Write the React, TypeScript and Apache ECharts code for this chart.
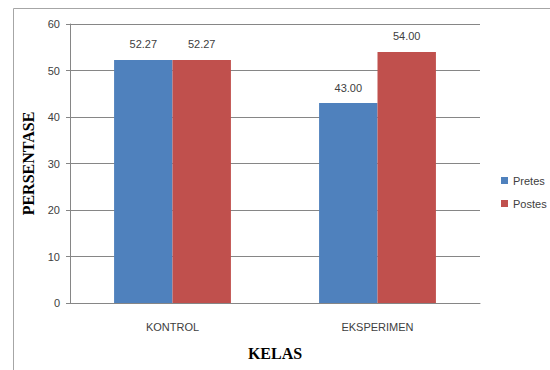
import React, { useEffect, useRef } from "react";
import * as echarts from "echarts";

const categories = ["KONTROL", "EKSPERIMEN"];
const pretes = [52.27, 43.0];
const postes = [52.27, 54.0];
const seriesNames = ["Pretes", "Postes"];

export default function App() {
  const ref = useRef<HTMLDivElement>(null);
  useEffect(() => {
    if (!ref.current) return;
    const chart = echarts.init(ref.current, null, { renderer: "svg" });
    const labelCfg = {
      show: true,
      position: "top",
      distance: 10,
      formatter: (p: any) => Number(p.value).toFixed(2),
      fontFamily: "Liberation Sans, Arial, sans-serif",
      fontSize: 11,
      color: "#404040",
    };
    chart.setOption({
      animation: false,
      backgroundColor: "#ffffff",
      textStyle: { fontFamily: "Liberation Sans, Arial, sans-serif" },
      graphic: [
        { type: "line", shape: { x1: 13.5, y1: 8.5, x2: 550, y2: 8.5 }, style: { stroke: "#a6a6a6", lineWidth: 1 } },
        { type: "line", shape: { x1: 13.5, y1: 8.5, x2: 13.5, y2: 370 }, style: { stroke: "#a6a6a6", lineWidth: 1 } },
      ],
      grid: { left: 70, right: 70, top: 24, bottom: 67, containLabel: false },
      legend: {
        orient: "vertical",
        left: 496,
        top: 170,
        itemWidth: 7,
        itemHeight: 7,
        itemGap: 12,
        icon: "rect",
        textStyle: { fontSize: 11, color: "#404040", fontFamily: "Liberation Sans, Arial, sans-serif" },
        data: seriesNames,
      },
      xAxis: {
        type: "category",
        data: categories,
        name: "KELAS",
        nameLocation: "middle",
        nameGap: 42,
        nameTextStyle: { fontFamily: "Liberation Serif, Times New Roman, serif", fontWeight: "bold", fontSize: 16, color: "#000" },
        axisLine: { lineStyle: { color: "#868686" } },
        axisTick: { show: false },
        axisLabel: { fontSize: 11, color: "#404040", margin: 18 },
      },
      yAxis: {
        type: "value",
        min: 0,
        max: 60,
        interval: 10,
        name: "PERSENTASE",
        nameLocation: "middle",
        nameGap: 28,
        nameTextStyle: { fontFamily: "Liberation Serif, Times New Roman, serif", fontWeight: "bold", fontSize: 16, color: "#000" },
        axisLine: { show: true, lineStyle: { color: "#868686" } },
        axisTick: { show: true, length: 4, lineStyle: { color: "#868686" } },
        axisLabel: { fontSize: 11, color: "#404040", margin: 10 },
        splitLine: { lineStyle: { color: "#868686", width: 1 } },
      },
      series: [
        {
          name: seriesNames[0],
          type: "bar",
          data: pretes,
          barCategoryGap: "43%",
          barGap: "0%",
          itemStyle: { color: "#4F81BD" },
          label: labelCfg,
        },
        {
          name: seriesNames[1],
          type: "bar",
          data: postes,
          barCategoryGap: "43%",
          barGap: "0%",
          itemStyle: { color: "#C0504D" },
          label: labelCfg,
        },
      ],
    });
    return () => chart.dispose();
  }, []);
  return (
    <div
      ref={ref}
      style={{ position: "absolute", left: 0, top: 0, width: 550, height: 370 }}
    />
  );
}
